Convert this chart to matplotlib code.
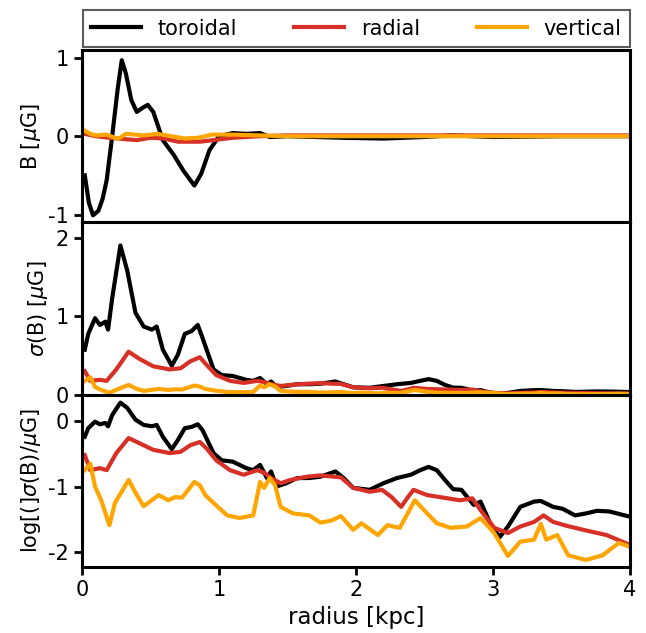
import numpy as np
import matplotlib
matplotlib.use("Agg")
import matplotlib.pyplot as plt

# mean field components, B [muG]
r_B_tor = [0.02, 0.05, 0.08, 0.12, 0.15, 0.18, 0.22, 0.26, 0.29, 0.32, 0.36, 0.40, 0.44, 0.48,
           0.52, 0.59, 0.67, 0.74, 0.82, 0.87, 0.93, 1.0, 1.1, 1.2, 1.3, 1.37, 1.5, 1.9, 2.2,
           2.5, 2.7, 3.0, 3.5, 4.0]
B_tor = [-0.5, -0.85, -1.01, -0.95, -0.8, -0.56, 0.0, 0.6, 0.97, 0.8, 0.46, 0.31, 0.36, 0.40,
         0.31, -0.05, -0.24, -0.44, -0.63, -0.48, -0.18, 0.0, 0.04, 0.03, 0.04, -0.01, 0.0,
         -0.02, -0.03, -0.01, 0.01, -0.01, 0.0, 0.0]

r_B_rad = [0.02, 0.1, 0.2, 0.33, 0.4, 0.5, 0.6, 0.7, 0.86, 0.96, 1.1, 1.3, 1.5, 2.0, 3.0, 4.0]
B_rad = [0.03, 0.0, -0.02, -0.04, -0.05, -0.02, -0.03, -0.07, -0.07, -0.05, -0.02, 0.0,
         0.01, 0.01, 0.01, 0.01]

r_B_ver = [0.02, 0.06, 0.1, 0.18, 0.24, 0.27, 0.32, 0.45, 0.55, 0.65, 0.75, 0.85, 0.95, 1.1,
           1.3, 1.5, 2.0, 3.0, 4.0]
B_ver = [0.07, 0.03, 0.01, 0.02, -0.02, -0.03, 0.03, 0.01, 0.03, 0.0, -0.03, -0.02, 0.02,
         0.02, 0.01, 0.0, 0.0, 0.0, 0.0]

# log10 of the field dispersion, sigma(B) [muG]
r_s_tor = [0.02, 0.045, 0.095, 0.13, 0.17, 0.19, 0.22, 0.28, 0.33, 0.39, 0.45, 0.51, 0.545,
           0.59, 0.655, 0.70, 0.75, 0.80, 0.845, 0.88, 0.96, 1.02, 1.10, 1.20, 1.25, 1.30,
           1.35, 1.38, 1.42, 1.49, 1.57, 1.66, 1.74, 1.85, 1.91, 1.98, 2.10, 2.20, 2.30,
           2.40, 2.47, 2.53, 2.59, 2.65, 2.71, 2.77, 2.86, 2.91, 2.98, 3.05, 3.11, 3.20,
           3.30, 3.35, 3.44, 3.51, 3.60, 3.68, 3.76, 3.85, 4.0]
logs_tor = [-0.24, -0.11, -0.01, -0.05, -0.03, -0.08, 0.09, 0.28, 0.20, 0.02, -0.06, -0.08,
            -0.06, -0.24, -0.43, -0.29, -0.11, -0.09, -0.05, -0.14, -0.49, -0.60, -0.62,
            -0.72, -0.75, -0.67, -0.87, -0.77, -1.0, -0.95, -0.87, -0.87, -0.85, -0.77,
            -0.87, -1.02, -1.05, -0.95, -0.87, -0.82, -0.75, -0.70, -0.75, -0.90, -1.04,
            -1.05, -1.28, -1.23, -1.56, -1.77, -1.61, -1.31, -1.23, -1.22, -1.31, -1.34,
            -1.44, -1.41, -1.37, -1.38, -1.46]

r_s_rad = [0.02, 0.06, 0.13, 0.18, 0.25, 0.34, 0.42, 0.52, 0.64, 0.72, 0.79, 0.86, 0.91,
           0.98, 1.08, 1.18, 1.28, 1.33, 1.38, 1.45, 1.52, 1.64, 1.74, 1.89, 1.98, 2.10,
           2.19, 2.26, 2.33, 2.38, 2.42, 2.52, 2.64, 2.76, 2.85, 2.91, 3.01, 3.11, 3.20,
           3.30, 3.37, 3.44, 3.54, 3.68, 3.83, 4.0]
logs_rad = [-0.52, -0.75, -0.72, -0.75, -0.49, -0.26, -0.34, -0.44, -0.49, -0.47, -0.37,
            -0.32, -0.42, -0.60, -0.75, -0.82, -0.75, -0.79, -0.87, -0.95, -0.90, -0.85,
            -0.83, -0.86, -1.02, -1.08, -1.05, -1.16, -1.31, -1.16, -1.05, -1.13, -1.17,
            -1.21, -1.18, -1.36, -1.63, -1.71, -1.61, -1.54, -1.44, -1.54, -1.60, -1.67,
            -1.74, -1.89]

r_s_ver = [0.02, 0.06, 0.095, 0.14, 0.20, 0.24, 0.34, 0.40, 0.45, 0.56, 0.63, 0.68, 0.73,
           0.82, 0.86, 0.90, 0.96, 1.06, 1.15, 1.25, 1.30, 1.33, 1.37, 1.41, 1.45, 1.54,
           1.66, 1.74, 1.82, 1.89, 1.98, 2.04, 2.16, 2.23, 2.32, 2.43, 2.52, 2.59, 2.69,
           2.81, 2.91, 3.01, 3.11, 3.20, 3.30, 3.35, 3.39, 3.47, 3.55, 3.68, 3.80, 3.92, 4.0]
logs_ver = [-0.75, -0.65, -1.0, -1.21, -1.59, -1.25, -0.90, -1.13, -1.30, -1.13, -1.21,
            -1.16, -1.17, -0.93, -0.98, -1.13, -1.25, -1.44, -1.48, -1.44, -0.93, -1.02,
            -0.87, -0.98, -1.31, -1.41, -1.44, -1.55, -1.52, -1.45, -1.66, -1.56, -1.74,
            -1.59, -1.63, -1.21, -1.41, -1.56, -1.63, -1.61, -1.48, -1.71, -2.06, -1.84,
            -1.81, -1.57, -1.81, -1.74, -2.05, -2.12, -2.05, -1.86, -1.92]

labels = ["toroidal", "radial", "vertical"]
colors = ["black", "#d73027", "#ffa500"]

plt.rcParams["font.family"] = ["DejaVu Sans"]
plt.rcParams["font.size"] = 14
plt.rcParams["axes.unicode_minus"] = False

fig = plt.figure(figsize=(6.46, 6.33), dpi=100)
gs = fig.add_gridspec(3, 1, left=0.127, right=0.975, top=0.921, bottom=0.104, hspace=0)
axs = [fig.add_subplot(gs[i]) for i in range(3)]

B_data = [(r_B_tor, B_tor), (r_B_rad, B_rad), (r_B_ver, B_ver)]
s_data = [(r_s_tor, logs_tor), (r_s_rad, logs_rad), (r_s_ver, logs_ver)]

lw = 3.0
for (r, b), c, lab in zip(B_data, colors, labels):
    axs[0].plot(r, b, color=c, lw=lw, label=lab, solid_joinstyle="round")
for (r, ls), c in zip(s_data, colors):
    axs[1].plot(r, 10 ** np.array(ls), color=c, lw=lw, solid_joinstyle="round")
    axs[2].plot(r, ls, color=c, lw=lw, solid_joinstyle="round")

axs[0].set_ylim(-1.1, 1.1)
axs[0].set_yticks([-1, 0, 1])
axs[1].set_ylim(0, 2.2)
axs[1].set_yticks([0, 1, 2])
axs[2].set_ylim(-2.23, 0.4)
axs[2].set_yticks([-2, -1, 0])

axs[0].set_ylabel(r"B [$\mu$G]", fontsize=15)
axs[1].set_ylabel(r"$\sigma$(B) [$\mu$G]", fontsize=15)
axs[2].set_ylabel(r"log[(]$\sigma$(B)$/\mu$G]", fontsize=15)
axs[2].set_xlabel("radius [kpc]", fontsize=16.5)

for i, ax in enumerate(axs):
    ax.set_xlim(0, 4)
    ax.set_xticks([0, 1, 2, 3, 4])
    for s in ax.spines.values():
        s.set_linewidth(2.2)
    ax.tick_params(direction="out", length=6, width=2, labelsize=15)
    if i < 2:
        ax.tick_params(axis="x", bottom=False, labelbottom=False)

handles, labs = axs[0].get_legend_handles_labels()
leg = fig.legend(handles, labs, loc="lower left", ncol=3, mode="expand",
                 bbox_to_anchor=(0.128, 0.926, 0.847, 0.062), frameon=True,
                 fancybox=False, fontsize=15, handlelength=2.4, borderaxespad=0)
leg.get_frame().set_edgecolor("#333333")
leg.get_frame().set_linewidth(1.5)

fig.savefig("out.png", dpi=100)
